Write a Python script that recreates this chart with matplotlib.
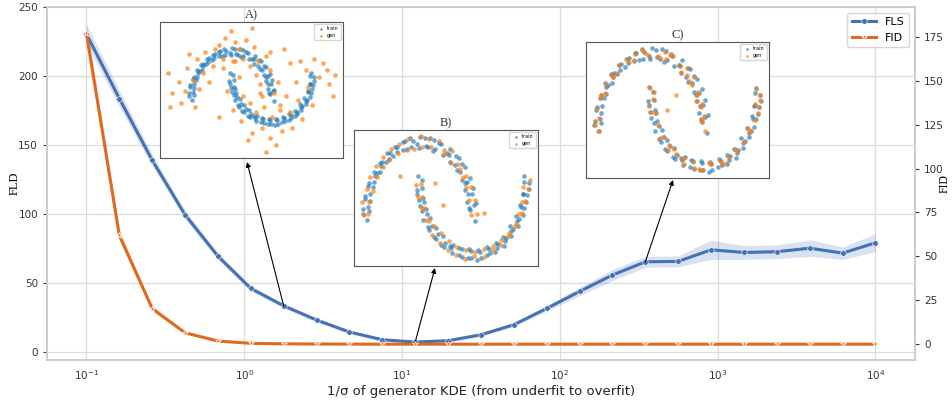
import numpy as np
import matplotlib
matplotlib.use("Agg")
import matplotlib.pyplot as plt
from matplotlib.ticker import NullLocator

# ---- main curves ----
inv_sigma = [0.1, 0.1616, 0.2610, 0.4217, 0.6813, 1.1007, 1.778, 2.873, 4.642,
             7.499, 12.12, 19.57, 31.62, 51.09, 82.54, 133.4, 215.4, 348.1,
             562.3, 908.5, 1468, 2371, 3831, 6190, 10000]
fls_mean = [230.4, 183.6, 138.9, 99.3, 69.3, 45.9, 33.3, 23.0, 14.3, 8.7, 7.0,
            8.0, 12.3, 19.6, 31.4, 43.7, 55.6, 65.2, 65.5, 73.9, 72.0, 72.5,
            75.1, 71.5, 79.0]
fls_ci = [7, 6, 4, 3, 2.5, 2, 1.5, 1.5, 1.2, 1, 1, 1, 1.2, 1.5, 2, 3, 4, 4, 4,
          7, 5, 5, 6, 4.5, 6.5]
fid_mean = [177, 62, 20.3, 6.5, 1.8, 0.5, 0.2, 0.1, 0.05, 0, 0, 0, 0, 0, 0, 0,
            0, 0, 0, 0, 0, 0, 0, 0, 0]
fid_ci = [6, 3, 1.5, 0.8, 0.4, 0.2, 0.1, 0, 0, 0, 0, 0, 0, 0, 0, 0, 0, 0, 0, 0,
          0, 0, 0, 0, 0]

# ---- two-moons training set (same in every inset) ----
train_x = [1.04, 0.93, 1.02, 0.91, 0.98, 0.85, 0.90, 0.76, 0.80, 0.66, 0.69, 0.52, 0.55,
           0.40, 0.30, 0.28, 0.12, 0.10, -0.04, -0.12, -0.15, -0.30, -0.31, -0.45, -0.48,
           -0.60, -0.62, -0.74, -0.73, -0.85, -0.84, -0.93, -0.91, -1.01, -0.95, -1.04, -0.97,
           0.95, 1.06, 0.90, 1.01, 0.86, 0.95, 0.80, 0.86, 0.70, 0.74, 0.57, 0.58, 0.44, 0.37,
           0.25, 0.21, 0.17, 0.02, -0.01, -0.17, -0.22, -0.27, -0.42, -0.41, -0.57, -0.55,
           -0.71, -0.69, -0.83, -0.79, -0.95, -0.87, -1.02, -0.92, -1.05, -0.93,
           -0.03, 0.06, -0.04, 0.09, 0.01, 0.15, 0.08, 0.24, 0.19, 0.35, 0.31, 0.48, 0.46,
           0.63, 0.61, 0.79, 0.80, 0.96, 0.97, 1.13, 1.15, 1.30, 1.32, 1.47, 1.46, 1.62, 1.61,
           1.75, 1.72, 1.87, 1.83, 1.96, 1.90, 2.02, 1.94, 2.04, 1.96,
           0.05, -0.05, 0.07, -0.01, 0.12, 0.06, 0.21, 0.16, 0.31, 0.27, 0.44, 0.41, 0.59,
           0.57, 0.74, 0.75, 0.91, 0.93, 1.08, 1.10, 1.26, 1.27, 1.42, 1.43, 1.58, 1.56,
           1.72, 1.69, 1.84, 1.80, 1.93, 1.88, 2.00, 1.93, 2.05, 1.95]
train_y = [-0.06, 0.12, 0.15, 0.30, 0.31, 0.45, 0.47, 0.60, 0.70, 0.69, 0.81, 0.85, 0.83,
           0.97, 0.91, 1.03, 0.95, 1.05, 0.97, 1.02, 0.93, 1.00, 0.90, 0.93, 0.82,
           0.85, 0.73, 0.72, 0.60, 0.60, 0.46, 0.45, 0.30, 0.28, 0.13, 0.10, -0.04,
           0.09, 0.18, 0.20, 0.38, 0.36, 0.52, 0.49, 0.66, 0.62, 0.79, 0.74, 0.91, 0.83, 0.99,
           0.88, 1.06, 0.93, 1.07, 0.92, 1.06, 0.91, 1.01, 0.87, 0.94, 0.78, 0.86,
           0.68, 0.74, 0.55, 0.58, 0.41, 0.40, 0.24, 0.21, 0.04, 0.07,
           0.55, 0.38, 0.31, 0.20, 0.14, 0.03, -0.04, -0.12, -0.18, -0.23, -0.30, -0.35, -0.41,
           -0.38, -0.49, -0.44, -0.54, -0.46, -0.56, -0.47, -0.55, -0.43, -0.49, -0.37, -0.42,
           -0.29, -0.33, -0.17, -0.19, -0.03, -0.06, 0.12, 0.13, 0.29, 0.31, 0.45, 0.54,
           0.49, 0.36, 0.25, 0.22, 0.10, 0.07, -0.02, -0.14, -0.15, -0.27, -0.26, -0.38, -0.42,
           -0.39, -0.51, -0.42, -0.55, -0.44, -0.58, -0.45, -0.52, -0.41, -0.47, -0.35, -0.39,
           -0.27, -0.26, -0.13, -0.12, 0.01, 0.02, 0.16, 0.19, 0.30, 0.37, 0.47]

# ---- generated samples: A) underfit ----
gen_a_x = [1.20, 0.75, 1.15, 0.70, 0.95, 0.60, 0.85, 0.45, 0.55, 0.30, 0.35, 0.05, 0.10,
           -0.20, -0.15, -0.40, -0.45, -0.65, -0.70, -0.85, -0.95, -1.10, -1.15, -0.80,
           -1.30, -1.25, -0.90, -1.45, 0.20, -0.30, 0.65, 1.05, -0.55, -1.05, 0.95,
           -0.20, 0.20, -0.10, 0.30, 0.05, 0.45, 0.25, 0.60, 0.50, 0.80, 0.75, 1.00, 0.95,
           1.20, 1.25, 1.45, 1.50, 1.65, 1.75, 1.90, 2.00, 2.15, 1.85, 2.25, 2.05, 1.60,
           2.40, 0.10, 1.10, 0.40, 1.70, 2.35, 0.70, 1.35,
           0.50, -1.55, 2.55, 0.85, -1.50, 1.30, -0.30, 2.50, 0.00, 1.45]
gen_a_y = [-0.15, 0.05, 0.35, 0.30, 0.60, 0.50, 0.90, 0.70, 1.10, 0.85, 1.25, 0.80, 1.20,
           0.85, 1.30, 1.05, 0.70, 1.00, 0.55, 0.85, 0.40, 0.65, 0.15, 0.20,
           0.35, -0.10, -0.20, 0.10, 1.05, 1.15, 0.80, 0.10, 0.35, 0.95, 1.00,
           0.65, 0.45, 0.15, 0.05, -0.25, -0.10, -0.50, -0.30, -0.75, -0.20, -0.65, -0.40,
           -0.85, -0.25, -0.70, -0.30, -0.65, -0.05, -0.45, 0.25, -0.15, 0.45, 0.60, 0.75,
           0.85, 0.35, 0.30, 0.80, -1.00, -0.90, 0.80, 0.60, 0.10, 0.05,
           1.50, 0.55, 0.50, -1.15, -0.20, 1.05, -0.40, 0.05, 1.45, 0.75]

# ---- B) good fit ----
gen_b_x = [1.08, 0.97, 0.92, 1.05, 0.88, 0.97, 0.81, 0.87, 0.72, 0.76, 0.60, 0.62, 0.47,
           0.46, 0.36, 0.22, 0.19, 0.05, 0.03, -0.09, -0.20, -0.22, -0.37, -0.40, -0.53,
           -0.56, -0.68, -0.67, -0.80, -0.78, -0.91, -0.86, -0.97, -0.94, -1.06, -0.96, -1.03,
           0.04, -0.06, 0.05, -0.02, 0.09, 0.05, 0.18, 0.12, 0.28, 0.24, 0.40, 0.38, 0.55,
           0.53, 0.70, 0.69, 0.87, 0.86, 1.04, 1.02, 1.21, 1.20, 1.37, 1.38, 1.53, 1.53,
           1.68, 1.66, 1.81, 1.78, 1.91, 1.86, 1.98, 1.91, 2.03, 1.93, 2.06,
           -0.35, 0.45, 1.20, 0.30]
gen_b_y = [0.04, 0.02, 0.22, 0.22, 0.40, 0.40, 0.53, 0.55, 0.71, 0.64, 0.72, 0.88, 0.90,
           0.84, 1.01, 0.93, 1.04, 0.93, 1.08, 0.91, 1.04, 0.90, 0.98, 0.86, 0.91,
           0.76, 0.80, 0.66, 0.68, 0.53, 0.53, 0.35, 0.37, 0.20, 0.20, 0.03, 0.02,
           0.44, 0.42, 0.27, 0.26, 0.11, 0.12, -0.06, -0.05, -0.13, -0.25, -0.22, -0.36, -0.33,
           -0.45, -0.41, -0.52, -0.45, -0.57, -0.47, -0.53, -0.44, -0.54, -0.40, -0.45, -0.31,
           -0.38, -0.22, -0.26, -0.10, -0.13, 0.05, 0.03, 0.21, 0.20, 0.37, 0.40, 0.49,
           0.55, 0.15, 0.05, 0.45]

# ---- C) overfit: samples sit on the training points ----
gen_c_x = [1.02, 0.95, 1.00, 0.93, 0.96, 0.86, 0.88, 0.77, 0.81, 0.67, 0.68, 0.53, 0.41,
           0.29, 0.27, 0.13, -0.05, -0.11, -0.29, -0.32, -0.46, -0.59, -0.63, -0.75, -0.84,
           -0.85, -0.92, -1.00, -0.96, -1.03, -0.98,
           -0.02, 0.05, -0.03, 0.08, 0.14, 0.23, 0.34, 0.32, 0.47, 0.62, 0.62, 0.78, 0.81,
           0.96, 1.12, 1.29, 1.33, 1.46, 1.61, 1.74, 1.86, 1.84, 1.95, 2.01, 1.95, 2.03, 1.97,
           0.94, 0.85, 0.71, 0.56, 0.36, 0.18, -0.16, -0.41, -0.70, -0.94, -1.04,
           0.06, 0.00, 0.17, 0.43, 0.58, 0.90, 1.09, 1.41, 1.57, 1.81, 1.99, 2.04,
           0.47, 0.30]
gen_c_y = [-0.04, 0.11, 0.17, 0.29, 0.33, 0.44, 0.49, 0.58, 0.69, 0.71, 0.80, 0.84, 0.96,
           0.92, 1.02, 0.96, 0.98, 1.01, 0.99, 0.91, 0.92, 0.84, 0.74, 0.71, 0.59,
           0.47, 0.44, 0.27, 0.14, 0.09, -0.03,
           0.54, 0.39, 0.30, 0.21, 0.04, -0.11, -0.22, -0.29, -0.34, -0.39, -0.48, -0.45, -0.53,
           -0.55, -0.48, -0.44, -0.48, -0.38, -0.30, -0.18, -0.04, -0.05, 0.11, 0.28, 0.32, 0.44, 0.53,
           0.10, 0.37, 0.63, 0.75, 0.98, 0.94, 1.05, 0.88, 0.69, 0.40, 0.05,
           0.48, 0.22, -0.13, -0.27, -0.41, -0.54, -0.46, -0.46, -0.28, 0.00, 0.20, 0.38,
           0.45, 0.25]

FLS_COLOR = "#4472b4"
FID_COLOR = "#e0691f"
GRID = "#dcdcdc"
SERIF = "Liberation Serif"

fig = plt.figure(figsize=(9.53, 4.0), dpi=100)
ax = fig.add_axes([0.0493, 0.10, 0.9107, 0.8825])
ax2 = ax.twinx()

# FLS on left axis
lo = np.array(fls_mean) - np.array(fls_ci)
hi = np.array(fls_mean) + np.array(fls_ci)
ax.fill_between(inv_sigma, lo, hi, color=FLS_COLOR, alpha=0.2, lw=0)
l1, = ax.plot(inv_sigma, fls_mean, color=FLS_COLOR, lw=2.2, marker="o", ms=4,
              mec="white", mew=0.4, label="FLS")

# FID on right axis
lo2 = np.array(fid_mean) - np.array(fid_ci)
hi2 = np.array(fid_mean) + np.array(fid_ci)
ax2.fill_between(inv_sigma, lo2, hi2, color=FID_COLOR, alpha=0.2, lw=0)
l2, = ax2.plot(inv_sigma, fid_mean, color=FID_COLOR, lw=2.2, marker="*", ms=5,
               mec="white", mew=0.5, label="FID")

ax.set_xscale("log")
ax.xaxis.set_minor_locator(NullLocator())
ax.set_ylim(-6, 250)
ax2.set_ylim(-9, 192)
ax2.set_yticks(range(0, 176, 25))

ax.grid(True, color=GRID, lw=0.9)
ax.set_axisbelow(True)
ax2.grid(False)

for a in (ax, ax2):
    for s in a.spines.values():
        s.set_color("#cccccc")
        s.set_linewidth(1.2)
    a.tick_params(axis="both", labelsize=7.5, labelcolor="#333333", color="#333333")
    a.tick_params(axis="x", length=0, pad=6)
    a.tick_params(axis="y", length=3, width=0.8)

ax.set_xlabel("1/σ of generator KDE (from underfit to overfit)", fontsize=9.5,
              color="#222222", labelpad=2)
ax.set_ylabel("FLD", family=SERIF, fontsize=9)
ax2.set_ylabel("FID", family=SERIF, fontsize=8.5)
ax.yaxis.set_label_coords(-0.03, 0.5)
ax2.yaxis.set_label_coords(1.027, 0.5)

leg = ax2.legend([l1, l2], ["FLS", "FID"], loc="upper right", fontsize=8,
                 frameon=True, fancybox=True, borderpad=0.4, handlelength=2.2)
leg.get_frame().set_edgecolor("#cccccc")

# ---- insets ----
insets = [
    ("A)", [0.168, 0.605, 0.192, 0.340], gen_a_x, gen_a_y, 6, (0.475, -0.03)),
    ("B)", [0.3715, 0.335, 0.193, 0.340], gen_b_x, gen_b_y, 10, (0.44, -0.015)),
    ("C)", [0.615, 0.555, 0.192, 0.340], gen_c_x, gen_c_y, 17, (0.475, -0.015)),
]
for title, rect, gx, gy, idx, tip in insets:
    ia = fig.add_axes(rect)
    ia.scatter(train_x, train_y, s=11, color="#1f77b4", alpha=0.65, lw=0, label="train")
    ia.scatter(gx, gy, s=11, color="#ff7f0e", alpha=0.7, lw=0, label="gen")
    ia.set_xticks([])
    ia.set_yticks([])
    for s in ia.spines.values():
        s.set_color("#555555")
        s.set_linewidth(0.8)
    ia.set_title(title, family=SERIF, fontsize=9, color="#333333", pad=3)
    ia.legend(loc="upper right", fontsize=3.5, markerscale=0.6, handletextpad=0.2,
              borderpad=0.4, labelspacing=0.3, frameon=True)
    ax.annotate("", xy=tip, xycoords=ia.transAxes,
                xytext=(inv_sigma[idx], fls_mean[idx]), textcoords="data",
                arrowprops=dict(arrowstyle="-|>", color="black", lw=0.8,
                                shrinkA=0, shrinkB=0, mutation_scale=7))

fig.savefig("out.png", dpi=100)
